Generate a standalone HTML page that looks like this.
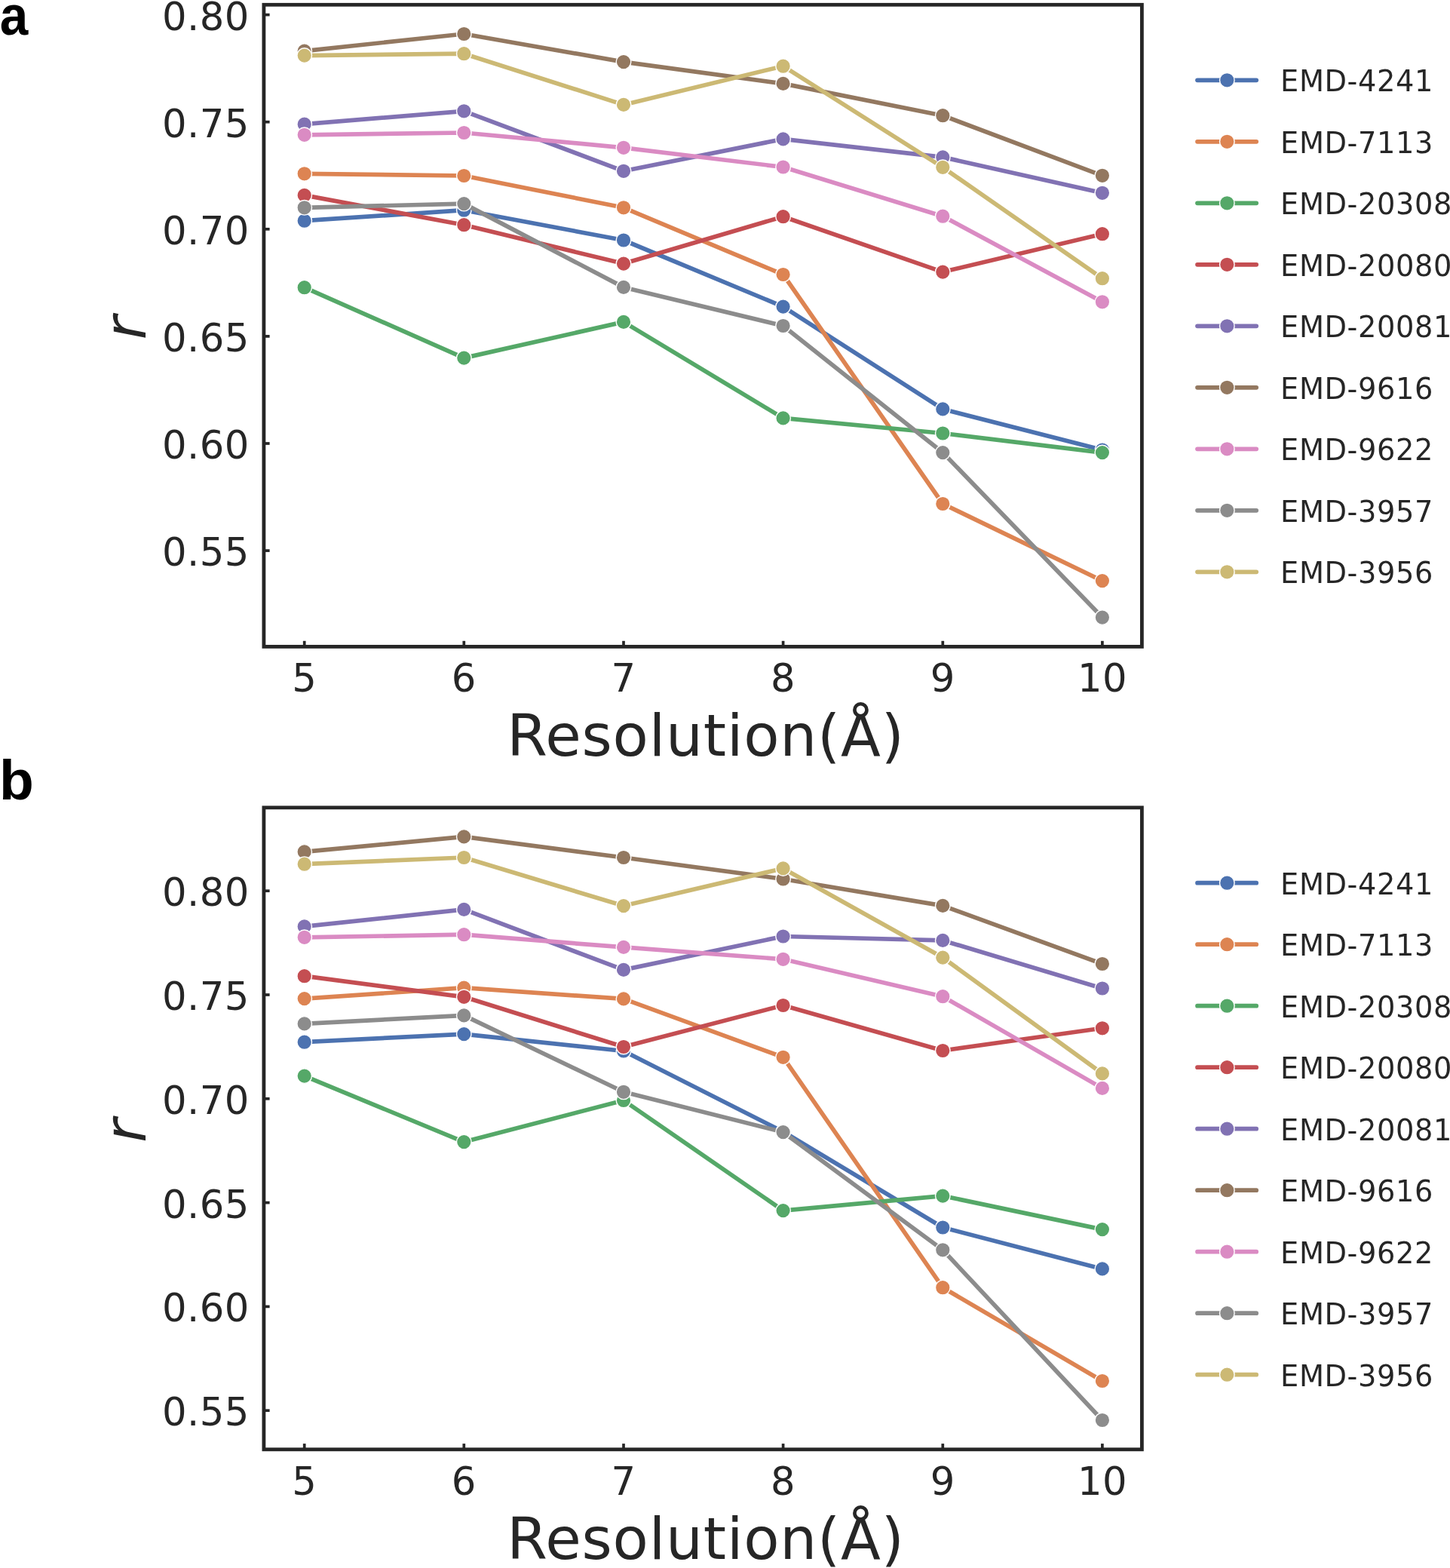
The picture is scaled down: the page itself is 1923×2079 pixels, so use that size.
<!DOCTYPE html>
<html><head><meta charset="utf-8"><title>Resolution vs r</title>
<style>
html,body{margin:0;padding:0;background:#fff;}
body{width:1923px;height:2079px;overflow:hidden;}
svg{display:block;}
.tk{font-family:"DejaVu Sans","Liberation Sans",sans-serif;font-size:51.2px;letter-spacing:0.45px;fill:#262626;}
.lab{font-family:"DejaVu Sans","Liberation Sans",sans-serif;font-size:77.3px;letter-spacing:0.8px;fill:#262626;}
.ylab{font-family:"DejaVu Sans","Liberation Sans",sans-serif;font-style:oblique;font-size:77px;fill:#262626;}
.lg{font-family:"DejaVu Sans","Liberation Sans",sans-serif;font-size:38.3px;letter-spacing:0.6px;fill:#262626;}
.pl{font-family:"Liberation Sans",Arial,sans-serif;font-weight:bold;font-size:75px;fill:#000;}
</style></head>
<body>
<svg width="1923" height="2079" viewBox="0 0 1923 2079">
<rect width="1923" height="2079" fill="#fff"/>
<polyline points="403.7,292.7 615.3,278.7 827.0,318.5 1038.6,406.6 1250.3,542.4 1461.9,596.5" fill="none" stroke="#4C72B0" stroke-width="5.7" stroke-linecap="round" stroke-linejoin="round"/>
<circle cx="403.7" cy="292.7" r="9.8" fill="#4C72B0" stroke="#fff" stroke-width="1.4"/>
<circle cx="615.3" cy="278.7" r="9.8" fill="#4C72B0" stroke="#fff" stroke-width="1.4"/>
<circle cx="827.0" cy="318.5" r="9.8" fill="#4C72B0" stroke="#fff" stroke-width="1.4"/>
<circle cx="1038.6" cy="406.6" r="9.8" fill="#4C72B0" stroke="#fff" stroke-width="1.4"/>
<circle cx="1250.3" cy="542.4" r="9.8" fill="#4C72B0" stroke="#fff" stroke-width="1.4"/>
<circle cx="1461.9" cy="596.5" r="9.8" fill="#4C72B0" stroke="#fff" stroke-width="1.4"/>
<polyline points="403.7,230.3 615.3,233.0 827.0,275.3 1038.6,364.0 1250.3,668.0 1461.9,770.1" fill="none" stroke="#DD8452" stroke-width="5.7" stroke-linecap="round" stroke-linejoin="round"/>
<circle cx="403.7" cy="230.3" r="9.8" fill="#DD8452" stroke="#fff" stroke-width="1.4"/>
<circle cx="615.3" cy="233.0" r="9.8" fill="#DD8452" stroke="#fff" stroke-width="1.4"/>
<circle cx="827.0" cy="275.3" r="9.8" fill="#DD8452" stroke="#fff" stroke-width="1.4"/>
<circle cx="1038.6" cy="364.0" r="9.8" fill="#DD8452" stroke="#fff" stroke-width="1.4"/>
<circle cx="1250.3" cy="668.0" r="9.8" fill="#DD8452" stroke="#fff" stroke-width="1.4"/>
<circle cx="1461.9" cy="770.1" r="9.8" fill="#DD8452" stroke="#fff" stroke-width="1.4"/>
<polyline points="403.7,381.2 615.3,474.6 827.0,426.9 1038.6,554.4 1250.3,574.5 1461.9,600.1" fill="none" stroke="#55A868" stroke-width="5.7" stroke-linecap="round" stroke-linejoin="round"/>
<circle cx="403.7" cy="381.2" r="9.8" fill="#55A868" stroke="#fff" stroke-width="1.4"/>
<circle cx="615.3" cy="474.6" r="9.8" fill="#55A868" stroke="#fff" stroke-width="1.4"/>
<circle cx="827.0" cy="426.9" r="9.8" fill="#55A868" stroke="#fff" stroke-width="1.4"/>
<circle cx="1038.6" cy="554.4" r="9.8" fill="#55A868" stroke="#fff" stroke-width="1.4"/>
<circle cx="1250.3" cy="574.5" r="9.8" fill="#55A868" stroke="#fff" stroke-width="1.4"/>
<circle cx="1461.9" cy="600.1" r="9.8" fill="#55A868" stroke="#fff" stroke-width="1.4"/>
<polyline points="403.7,258.9 615.3,298.2 827.0,349.6 1038.6,287.2 1250.3,360.6 1461.9,310.2" fill="none" stroke="#C44E52" stroke-width="5.7" stroke-linecap="round" stroke-linejoin="round"/>
<circle cx="403.7" cy="258.9" r="9.8" fill="#C44E52" stroke="#fff" stroke-width="1.4"/>
<circle cx="615.3" cy="298.2" r="9.8" fill="#C44E52" stroke="#fff" stroke-width="1.4"/>
<circle cx="827.0" cy="349.6" r="9.8" fill="#C44E52" stroke="#fff" stroke-width="1.4"/>
<circle cx="1038.6" cy="287.2" r="9.8" fill="#C44E52" stroke="#fff" stroke-width="1.4"/>
<circle cx="1250.3" cy="360.6" r="9.8" fill="#C44E52" stroke="#fff" stroke-width="1.4"/>
<circle cx="1461.9" cy="310.2" r="9.8" fill="#C44E52" stroke="#fff" stroke-width="1.4"/>
<polyline points="403.7,164.7 615.3,147.3 827.0,226.8 1038.6,184.4 1250.3,208.4 1461.9,255.8" fill="none" stroke="#8172B3" stroke-width="5.7" stroke-linecap="round" stroke-linejoin="round"/>
<circle cx="403.7" cy="164.7" r="9.8" fill="#8172B3" stroke="#fff" stroke-width="1.4"/>
<circle cx="615.3" cy="147.3" r="9.8" fill="#8172B3" stroke="#fff" stroke-width="1.4"/>
<circle cx="827.0" cy="226.8" r="9.8" fill="#8172B3" stroke="#fff" stroke-width="1.4"/>
<circle cx="1038.6" cy="184.4" r="9.8" fill="#8172B3" stroke="#fff" stroke-width="1.4"/>
<circle cx="1250.3" cy="208.4" r="9.8" fill="#8172B3" stroke="#fff" stroke-width="1.4"/>
<circle cx="1461.9" cy="255.8" r="9.8" fill="#8172B3" stroke="#fff" stroke-width="1.4"/>
<polyline points="403.7,67.6 615.3,45.0 827.0,82.1 1038.6,110.9 1250.3,153.2 1461.9,232.8" fill="none" stroke="#937860" stroke-width="5.7" stroke-linecap="round" stroke-linejoin="round"/>
<circle cx="403.7" cy="67.6" r="9.8" fill="#937860" stroke="#fff" stroke-width="1.4"/>
<circle cx="615.3" cy="45.0" r="9.8" fill="#937860" stroke="#fff" stroke-width="1.4"/>
<circle cx="827.0" cy="82.1" r="9.8" fill="#937860" stroke="#fff" stroke-width="1.4"/>
<circle cx="1038.6" cy="110.9" r="9.8" fill="#937860" stroke="#fff" stroke-width="1.4"/>
<circle cx="1250.3" cy="153.2" r="9.8" fill="#937860" stroke="#fff" stroke-width="1.4"/>
<circle cx="1461.9" cy="232.8" r="9.8" fill="#937860" stroke="#fff" stroke-width="1.4"/>
<polyline points="403.7,178.8 615.3,176.0 827.0,195.8 1038.6,221.5 1250.3,286.7 1461.9,400.3" fill="none" stroke="#DA8BC3" stroke-width="5.7" stroke-linecap="round" stroke-linejoin="round"/>
<circle cx="403.7" cy="178.8" r="9.8" fill="#DA8BC3" stroke="#fff" stroke-width="1.4"/>
<circle cx="615.3" cy="176.0" r="9.8" fill="#DA8BC3" stroke="#fff" stroke-width="1.4"/>
<circle cx="827.0" cy="195.8" r="9.8" fill="#DA8BC3" stroke="#fff" stroke-width="1.4"/>
<circle cx="1038.6" cy="221.5" r="9.8" fill="#DA8BC3" stroke="#fff" stroke-width="1.4"/>
<circle cx="1250.3" cy="286.7" r="9.8" fill="#DA8BC3" stroke="#fff" stroke-width="1.4"/>
<circle cx="1461.9" cy="400.3" r="9.8" fill="#DA8BC3" stroke="#fff" stroke-width="1.4"/>
<polyline points="403.7,275.3 615.3,270.1 827.0,380.9 1038.6,432.0 1250.3,600.1 1461.9,818.6" fill="none" stroke="#8C8C8C" stroke-width="5.7" stroke-linecap="round" stroke-linejoin="round"/>
<circle cx="403.7" cy="275.3" r="9.8" fill="#8C8C8C" stroke="#fff" stroke-width="1.4"/>
<circle cx="615.3" cy="270.1" r="9.8" fill="#8C8C8C" stroke="#fff" stroke-width="1.4"/>
<circle cx="827.0" cy="380.9" r="9.8" fill="#8C8C8C" stroke="#fff" stroke-width="1.4"/>
<circle cx="1038.6" cy="432.0" r="9.8" fill="#8C8C8C" stroke="#fff" stroke-width="1.4"/>
<circle cx="1250.3" cy="600.1" r="9.8" fill="#8C8C8C" stroke="#fff" stroke-width="1.4"/>
<circle cx="1461.9" cy="818.6" r="9.8" fill="#8C8C8C" stroke="#fff" stroke-width="1.4"/>
<polyline points="403.7,73.6 615.3,71.2 827.0,138.9 1038.6,87.7 1250.3,221.8 1461.9,369.2" fill="none" stroke="#CCB974" stroke-width="5.7" stroke-linecap="round" stroke-linejoin="round"/>
<circle cx="403.7" cy="73.6" r="9.8" fill="#CCB974" stroke="#fff" stroke-width="1.4"/>
<circle cx="615.3" cy="71.2" r="9.8" fill="#CCB974" stroke="#fff" stroke-width="1.4"/>
<circle cx="827.0" cy="138.9" r="9.8" fill="#CCB974" stroke="#fff" stroke-width="1.4"/>
<circle cx="1038.6" cy="87.7" r="9.8" fill="#CCB974" stroke="#fff" stroke-width="1.4"/>
<circle cx="1250.3" cy="221.8" r="9.8" fill="#CCB974" stroke="#fff" stroke-width="1.4"/>
<circle cx="1461.9" cy="369.2" r="9.8" fill="#CCB974" stroke="#fff" stroke-width="1.4"/>
<line x1="403.7" y1="857.5" x2="403.7" y2="849.8" stroke="#262626" stroke-width="3.7"/>
<line x1="615.3" y1="857.5" x2="615.3" y2="849.8" stroke="#262626" stroke-width="3.7"/>
<line x1="827.0" y1="857.5" x2="827.0" y2="849.8" stroke="#262626" stroke-width="3.7"/>
<line x1="1038.6" y1="857.5" x2="1038.6" y2="849.8" stroke="#262626" stroke-width="3.7"/>
<line x1="1250.3" y1="857.5" x2="1250.3" y2="849.8" stroke="#262626" stroke-width="3.7"/>
<line x1="1461.9" y1="857.5" x2="1461.9" y2="849.8" stroke="#262626" stroke-width="3.7"/>
<line x1="349.9" y1="19.6" x2="357.6" y2="19.6" stroke="#262626" stroke-width="3.7"/>
<line x1="349.9" y1="161.7" x2="357.6" y2="161.7" stroke="#262626" stroke-width="3.7"/>
<line x1="349.9" y1="303.8" x2="357.6" y2="303.8" stroke="#262626" stroke-width="3.7"/>
<line x1="349.9" y1="445.9" x2="357.6" y2="445.9" stroke="#262626" stroke-width="3.7"/>
<line x1="349.9" y1="588.0" x2="357.6" y2="588.0" stroke="#262626" stroke-width="3.7"/>
<line x1="349.9" y1="730.1" x2="357.6" y2="730.1" stroke="#262626" stroke-width="3.7"/>
<rect x="349.9" y="6.3" width="1164.5" height="851.1" fill="none" stroke="#262626" stroke-width="4.8" stroke-linejoin="miter"/>
<text class="tk" x="330.8" y="39.5" text-anchor="end">0.80</text>
<text class="tk" x="330.8" y="181.6" text-anchor="end">0.75</text>
<text class="tk" x="330.8" y="323.7" text-anchor="end">0.70</text>
<text class="tk" x="330.8" y="465.8" text-anchor="end">0.65</text>
<text class="tk" x="330.8" y="607.9" text-anchor="end">0.60</text>
<text class="tk" x="330.8" y="750.0" text-anchor="end">0.55</text>
<text class="tk" x="403.7" y="917.3" text-anchor="middle">5</text>
<text class="tk" x="615.3" y="917.3" text-anchor="middle">6</text>
<text class="tk" x="827.0" y="917.3" text-anchor="middle">7</text>
<text class="tk" x="1038.6" y="917.3" text-anchor="middle">8</text>
<text class="tk" x="1250.3" y="917.3" text-anchor="middle">9</text>
<text class="tk" x="1461.9" y="917.3" text-anchor="middle">10</text>
<text class="lab" x="935.9" y="1002.4" text-anchor="middle">Resolution(Å)</text>
<text class="ylab" x="0" y="0" transform="translate(193,434.7) rotate(-90)" text-anchor="middle">r</text>
<line x1="1588.0" y1="106.3" x2="1666.2" y2="106.3" stroke="#4C72B0" stroke-width="5.7" stroke-linecap="round"/>
<circle cx="1627.3" cy="106.3" r="9.8" fill="#4C72B0" stroke="#fff" stroke-width="1.4"/>
<text class="lg" x="1698.1" y="121.3">EMD-4241</text>
<line x1="1588.0" y1="187.8" x2="1666.2" y2="187.8" stroke="#DD8452" stroke-width="5.7" stroke-linecap="round"/>
<circle cx="1627.3" cy="187.8" r="9.8" fill="#DD8452" stroke="#fff" stroke-width="1.4"/>
<text class="lg" x="1698.1" y="202.8">EMD-7113</text>
<line x1="1588.0" y1="269.3" x2="1666.2" y2="269.3" stroke="#55A868" stroke-width="5.7" stroke-linecap="round"/>
<circle cx="1627.3" cy="269.3" r="9.8" fill="#55A868" stroke="#fff" stroke-width="1.4"/>
<text class="lg" x="1698.1" y="284.3">EMD-20308</text>
<line x1="1588.0" y1="350.8" x2="1666.2" y2="350.8" stroke="#C44E52" stroke-width="5.7" stroke-linecap="round"/>
<circle cx="1627.3" cy="350.8" r="9.8" fill="#C44E52" stroke="#fff" stroke-width="1.4"/>
<text class="lg" x="1698.1" y="365.8">EMD-20080</text>
<line x1="1588.0" y1="432.3" x2="1666.2" y2="432.3" stroke="#8172B3" stroke-width="5.7" stroke-linecap="round"/>
<circle cx="1627.3" cy="432.3" r="9.8" fill="#8172B3" stroke="#fff" stroke-width="1.4"/>
<text class="lg" x="1698.1" y="447.3">EMD-20081</text>
<line x1="1588.0" y1="513.8" x2="1666.2" y2="513.8" stroke="#937860" stroke-width="5.7" stroke-linecap="round"/>
<circle cx="1627.3" cy="513.8" r="9.8" fill="#937860" stroke="#fff" stroke-width="1.4"/>
<text class="lg" x="1698.1" y="528.8">EMD-9616</text>
<line x1="1588.0" y1="595.3" x2="1666.2" y2="595.3" stroke="#DA8BC3" stroke-width="5.7" stroke-linecap="round"/>
<circle cx="1627.3" cy="595.3" r="9.8" fill="#DA8BC3" stroke="#fff" stroke-width="1.4"/>
<text class="lg" x="1698.1" y="610.3">EMD-9622</text>
<line x1="1588.0" y1="676.8" x2="1666.2" y2="676.8" stroke="#8C8C8C" stroke-width="5.7" stroke-linecap="round"/>
<circle cx="1627.3" cy="676.8" r="9.8" fill="#8C8C8C" stroke="#fff" stroke-width="1.4"/>
<text class="lg" x="1698.1" y="691.8">EMD-3957</text>
<line x1="1588.0" y1="758.3" x2="1666.2" y2="758.3" stroke="#CCB974" stroke-width="5.7" stroke-linecap="round"/>
<circle cx="1627.3" cy="758.3" r="9.8" fill="#CCB974" stroke="#fff" stroke-width="1.4"/>
<text class="lg" x="1698.1" y="773.3">EMD-3956</text>
<polyline points="403.7,1381.7 615.3,1371.1 827.0,1393.5 1038.6,1500.5 1250.3,1627.5 1461.9,1682.4" fill="none" stroke="#4C72B0" stroke-width="5.7" stroke-linecap="round" stroke-linejoin="round"/>
<circle cx="403.7" cy="1381.7" r="9.8" fill="#4C72B0" stroke="#fff" stroke-width="1.4"/>
<circle cx="615.3" cy="1371.1" r="9.8" fill="#4C72B0" stroke="#fff" stroke-width="1.4"/>
<circle cx="827.0" cy="1393.5" r="9.8" fill="#4C72B0" stroke="#fff" stroke-width="1.4"/>
<circle cx="1038.6" cy="1500.5" r="9.8" fill="#4C72B0" stroke="#fff" stroke-width="1.4"/>
<circle cx="1250.3" cy="1627.5" r="9.8" fill="#4C72B0" stroke="#fff" stroke-width="1.4"/>
<circle cx="1461.9" cy="1682.4" r="9.8" fill="#4C72B0" stroke="#fff" stroke-width="1.4"/>
<polyline points="403.7,1324.1 615.3,1309.7 827.0,1324.4 1038.6,1401.8 1250.3,1707.2 1461.9,1831.0" fill="none" stroke="#DD8452" stroke-width="5.7" stroke-linecap="round" stroke-linejoin="round"/>
<circle cx="403.7" cy="1324.1" r="9.8" fill="#DD8452" stroke="#fff" stroke-width="1.4"/>
<circle cx="615.3" cy="1309.7" r="9.8" fill="#DD8452" stroke="#fff" stroke-width="1.4"/>
<circle cx="827.0" cy="1324.4" r="9.8" fill="#DD8452" stroke="#fff" stroke-width="1.4"/>
<circle cx="1038.6" cy="1401.8" r="9.8" fill="#DD8452" stroke="#fff" stroke-width="1.4"/>
<circle cx="1250.3" cy="1707.2" r="9.8" fill="#DD8452" stroke="#fff" stroke-width="1.4"/>
<circle cx="1461.9" cy="1831.0" r="9.8" fill="#DD8452" stroke="#fff" stroke-width="1.4"/>
<polyline points="403.7,1426.6 615.3,1514.1 827.0,1459.0 1038.6,1605.1 1250.3,1585.6 1461.9,1630.1" fill="none" stroke="#55A868" stroke-width="5.7" stroke-linecap="round" stroke-linejoin="round"/>
<circle cx="403.7" cy="1426.6" r="9.8" fill="#55A868" stroke="#fff" stroke-width="1.4"/>
<circle cx="615.3" cy="1514.1" r="9.8" fill="#55A868" stroke="#fff" stroke-width="1.4"/>
<circle cx="827.0" cy="1459.0" r="9.8" fill="#55A868" stroke="#fff" stroke-width="1.4"/>
<circle cx="1038.6" cy="1605.1" r="9.8" fill="#55A868" stroke="#fff" stroke-width="1.4"/>
<circle cx="1250.3" cy="1585.6" r="9.8" fill="#55A868" stroke="#fff" stroke-width="1.4"/>
<circle cx="1461.9" cy="1630.1" r="9.8" fill="#55A868" stroke="#fff" stroke-width="1.4"/>
<polyline points="403.7,1294.2 615.3,1321.8 827.0,1388.0 1038.6,1333.0 1250.3,1393.0 1461.9,1363.3" fill="none" stroke="#C44E52" stroke-width="5.7" stroke-linecap="round" stroke-linejoin="round"/>
<circle cx="403.7" cy="1294.2" r="9.8" fill="#C44E52" stroke="#fff" stroke-width="1.4"/>
<circle cx="615.3" cy="1321.8" r="9.8" fill="#C44E52" stroke="#fff" stroke-width="1.4"/>
<circle cx="827.0" cy="1388.0" r="9.8" fill="#C44E52" stroke="#fff" stroke-width="1.4"/>
<circle cx="1038.6" cy="1333.0" r="9.8" fill="#C44E52" stroke="#fff" stroke-width="1.4"/>
<circle cx="1250.3" cy="1393.0" r="9.8" fill="#C44E52" stroke="#fff" stroke-width="1.4"/>
<circle cx="1461.9" cy="1363.3" r="9.8" fill="#C44E52" stroke="#fff" stroke-width="1.4"/>
<polyline points="403.7,1228.4 615.3,1205.9 827.0,1285.9 1038.6,1241.5 1250.3,1246.9 1461.9,1310.5" fill="none" stroke="#8172B3" stroke-width="5.7" stroke-linecap="round" stroke-linejoin="round"/>
<circle cx="403.7" cy="1228.4" r="9.8" fill="#8172B3" stroke="#fff" stroke-width="1.4"/>
<circle cx="615.3" cy="1205.9" r="9.8" fill="#8172B3" stroke="#fff" stroke-width="1.4"/>
<circle cx="827.0" cy="1285.9" r="9.8" fill="#8172B3" stroke="#fff" stroke-width="1.4"/>
<circle cx="1038.6" cy="1241.5" r="9.8" fill="#8172B3" stroke="#fff" stroke-width="1.4"/>
<circle cx="1250.3" cy="1246.9" r="9.8" fill="#8172B3" stroke="#fff" stroke-width="1.4"/>
<circle cx="1461.9" cy="1310.5" r="9.8" fill="#8172B3" stroke="#fff" stroke-width="1.4"/>
<polyline points="403.7,1129.4 615.3,1109.4 827.0,1137.0 1038.6,1165.5 1250.3,1200.9 1461.9,1278.0" fill="none" stroke="#937860" stroke-width="5.7" stroke-linecap="round" stroke-linejoin="round"/>
<circle cx="403.7" cy="1129.4" r="9.8" fill="#937860" stroke="#fff" stroke-width="1.4"/>
<circle cx="615.3" cy="1109.4" r="9.8" fill="#937860" stroke="#fff" stroke-width="1.4"/>
<circle cx="827.0" cy="1137.0" r="9.8" fill="#937860" stroke="#fff" stroke-width="1.4"/>
<circle cx="1038.6" cy="1165.5" r="9.8" fill="#937860" stroke="#fff" stroke-width="1.4"/>
<circle cx="1250.3" cy="1200.9" r="9.8" fill="#937860" stroke="#fff" stroke-width="1.4"/>
<circle cx="1461.9" cy="1278.0" r="9.8" fill="#937860" stroke="#fff" stroke-width="1.4"/>
<polyline points="403.7,1242.8 615.3,1239.2 827.0,1255.9 1038.6,1271.8 1250.3,1321.2 1461.9,1442.9" fill="none" stroke="#DA8BC3" stroke-width="5.7" stroke-linecap="round" stroke-linejoin="round"/>
<circle cx="403.7" cy="1242.8" r="9.8" fill="#DA8BC3" stroke="#fff" stroke-width="1.4"/>
<circle cx="615.3" cy="1239.2" r="9.8" fill="#DA8BC3" stroke="#fff" stroke-width="1.4"/>
<circle cx="827.0" cy="1255.9" r="9.8" fill="#DA8BC3" stroke="#fff" stroke-width="1.4"/>
<circle cx="1038.6" cy="1271.8" r="9.8" fill="#DA8BC3" stroke="#fff" stroke-width="1.4"/>
<circle cx="1250.3" cy="1321.2" r="9.8" fill="#DA8BC3" stroke="#fff" stroke-width="1.4"/>
<circle cx="1461.9" cy="1442.9" r="9.8" fill="#DA8BC3" stroke="#fff" stroke-width="1.4"/>
<polyline points="403.7,1357.4 615.3,1346.4 827.0,1447.8 1038.6,1501.1 1250.3,1657.3 1461.9,1883.0" fill="none" stroke="#8C8C8C" stroke-width="5.7" stroke-linecap="round" stroke-linejoin="round"/>
<circle cx="403.7" cy="1357.4" r="9.8" fill="#8C8C8C" stroke="#fff" stroke-width="1.4"/>
<circle cx="615.3" cy="1346.4" r="9.8" fill="#8C8C8C" stroke="#fff" stroke-width="1.4"/>
<circle cx="827.0" cy="1447.8" r="9.8" fill="#8C8C8C" stroke="#fff" stroke-width="1.4"/>
<circle cx="1038.6" cy="1501.1" r="9.8" fill="#8C8C8C" stroke="#fff" stroke-width="1.4"/>
<circle cx="1250.3" cy="1657.3" r="9.8" fill="#8C8C8C" stroke="#fff" stroke-width="1.4"/>
<circle cx="1461.9" cy="1883.0" r="9.8" fill="#8C8C8C" stroke="#fff" stroke-width="1.4"/>
<polyline points="403.7,1145.7 615.3,1137.0 827.0,1201.1 1038.6,1151.4 1250.3,1269.6 1461.9,1423.4" fill="none" stroke="#CCB974" stroke-width="5.7" stroke-linecap="round" stroke-linejoin="round"/>
<circle cx="403.7" cy="1145.7" r="9.8" fill="#CCB974" stroke="#fff" stroke-width="1.4"/>
<circle cx="615.3" cy="1137.0" r="9.8" fill="#CCB974" stroke="#fff" stroke-width="1.4"/>
<circle cx="827.0" cy="1201.1" r="9.8" fill="#CCB974" stroke="#fff" stroke-width="1.4"/>
<circle cx="1038.6" cy="1151.4" r="9.8" fill="#CCB974" stroke="#fff" stroke-width="1.4"/>
<circle cx="1250.3" cy="1269.6" r="9.8" fill="#CCB974" stroke="#fff" stroke-width="1.4"/>
<circle cx="1461.9" cy="1423.4" r="9.8" fill="#CCB974" stroke="#fff" stroke-width="1.4"/>
<line x1="403.7" y1="1921.8" x2="403.7" y2="1914.1" stroke="#262626" stroke-width="3.7"/>
<line x1="615.3" y1="1921.8" x2="615.3" y2="1914.1" stroke="#262626" stroke-width="3.7"/>
<line x1="827.0" y1="1921.8" x2="827.0" y2="1914.1" stroke="#262626" stroke-width="3.7"/>
<line x1="1038.6" y1="1921.8" x2="1038.6" y2="1914.1" stroke="#262626" stroke-width="3.7"/>
<line x1="1250.3" y1="1921.8" x2="1250.3" y2="1914.1" stroke="#262626" stroke-width="3.7"/>
<line x1="1461.9" y1="1921.8" x2="1461.9" y2="1914.1" stroke="#262626" stroke-width="3.7"/>
<line x1="349.9" y1="1181.2" x2="357.6" y2="1181.2" stroke="#262626" stroke-width="3.7"/>
<line x1="349.9" y1="1319.0" x2="357.6" y2="1319.0" stroke="#262626" stroke-width="3.7"/>
<line x1="349.9" y1="1456.8" x2="357.6" y2="1456.8" stroke="#262626" stroke-width="3.7"/>
<line x1="349.9" y1="1594.6" x2="357.6" y2="1594.6" stroke="#262626" stroke-width="3.7"/>
<line x1="349.9" y1="1732.4" x2="357.6" y2="1732.4" stroke="#262626" stroke-width="3.7"/>
<line x1="349.9" y1="1870.2" x2="357.6" y2="1870.2" stroke="#262626" stroke-width="3.7"/>
<rect x="349.9" y="1070.8" width="1164.5" height="851.0" fill="none" stroke="#262626" stroke-width="4.8" stroke-linejoin="miter"/>
<text class="tk" x="330.8" y="1201.1" text-anchor="end">0.80</text>
<text class="tk" x="330.8" y="1338.9" text-anchor="end">0.75</text>
<text class="tk" x="330.8" y="1476.7" text-anchor="end">0.70</text>
<text class="tk" x="330.8" y="1614.5" text-anchor="end">0.65</text>
<text class="tk" x="330.8" y="1752.3" text-anchor="end">0.60</text>
<text class="tk" x="330.8" y="1890.1" text-anchor="end">0.55</text>
<text class="tk" x="403.7" y="1981.7" text-anchor="middle">5</text>
<text class="tk" x="615.3" y="1981.7" text-anchor="middle">6</text>
<text class="tk" x="827.0" y="1981.7" text-anchor="middle">7</text>
<text class="tk" x="1038.6" y="1981.7" text-anchor="middle">8</text>
<text class="tk" x="1250.3" y="1981.7" text-anchor="middle">9</text>
<text class="tk" x="1461.9" y="1981.7" text-anchor="middle">10</text>
<text class="lab" x="935.9" y="2066.8" text-anchor="middle">Resolution(Å)</text>
<text class="ylab" x="0" y="0" transform="translate(193,1499.1) rotate(-90)" text-anchor="middle">r</text>
<line x1="1588.0" y1="1170.7" x2="1666.2" y2="1170.7" stroke="#4C72B0" stroke-width="5.7" stroke-linecap="round"/>
<circle cx="1627.3" cy="1170.7" r="9.8" fill="#4C72B0" stroke="#fff" stroke-width="1.4"/>
<text class="lg" x="1698.1" y="1185.7">EMD-4241</text>
<line x1="1588.0" y1="1252.2" x2="1666.2" y2="1252.2" stroke="#DD8452" stroke-width="5.7" stroke-linecap="round"/>
<circle cx="1627.3" cy="1252.2" r="9.8" fill="#DD8452" stroke="#fff" stroke-width="1.4"/>
<text class="lg" x="1698.1" y="1267.2">EMD-7113</text>
<line x1="1588.0" y1="1333.7" x2="1666.2" y2="1333.7" stroke="#55A868" stroke-width="5.7" stroke-linecap="round"/>
<circle cx="1627.3" cy="1333.7" r="9.8" fill="#55A868" stroke="#fff" stroke-width="1.4"/>
<text class="lg" x="1698.1" y="1348.7">EMD-20308</text>
<line x1="1588.0" y1="1415.2" x2="1666.2" y2="1415.2" stroke="#C44E52" stroke-width="5.7" stroke-linecap="round"/>
<circle cx="1627.3" cy="1415.2" r="9.8" fill="#C44E52" stroke="#fff" stroke-width="1.4"/>
<text class="lg" x="1698.1" y="1430.2">EMD-20080</text>
<line x1="1588.0" y1="1496.7" x2="1666.2" y2="1496.7" stroke="#8172B3" stroke-width="5.7" stroke-linecap="round"/>
<circle cx="1627.3" cy="1496.7" r="9.8" fill="#8172B3" stroke="#fff" stroke-width="1.4"/>
<text class="lg" x="1698.1" y="1511.7">EMD-20081</text>
<line x1="1588.0" y1="1578.2" x2="1666.2" y2="1578.2" stroke="#937860" stroke-width="5.7" stroke-linecap="round"/>
<circle cx="1627.3" cy="1578.2" r="9.8" fill="#937860" stroke="#fff" stroke-width="1.4"/>
<text class="lg" x="1698.1" y="1593.2">EMD-9616</text>
<line x1="1588.0" y1="1659.7" x2="1666.2" y2="1659.7" stroke="#DA8BC3" stroke-width="5.7" stroke-linecap="round"/>
<circle cx="1627.3" cy="1659.7" r="9.8" fill="#DA8BC3" stroke="#fff" stroke-width="1.4"/>
<text class="lg" x="1698.1" y="1674.7">EMD-9622</text>
<line x1="1588.0" y1="1741.2" x2="1666.2" y2="1741.2" stroke="#8C8C8C" stroke-width="5.7" stroke-linecap="round"/>
<circle cx="1627.3" cy="1741.2" r="9.8" fill="#8C8C8C" stroke="#fff" stroke-width="1.4"/>
<text class="lg" x="1698.1" y="1756.2">EMD-3957</text>
<line x1="1588.0" y1="1822.7" x2="1666.2" y2="1822.7" stroke="#CCB974" stroke-width="5.7" stroke-linecap="round"/>
<circle cx="1627.3" cy="1822.7" r="9.8" fill="#CCB974" stroke="#fff" stroke-width="1.4"/>
<text class="lg" x="1698.1" y="1837.7">EMD-3956</text>
<text class="pl" x="0" y="0" transform="translate(-0.2,46) scale(0.9,1)" style="font-size:75px">a</text>
<text class="pl" x="-1" y="1060.4">b</text>
</svg>
</body></html>
